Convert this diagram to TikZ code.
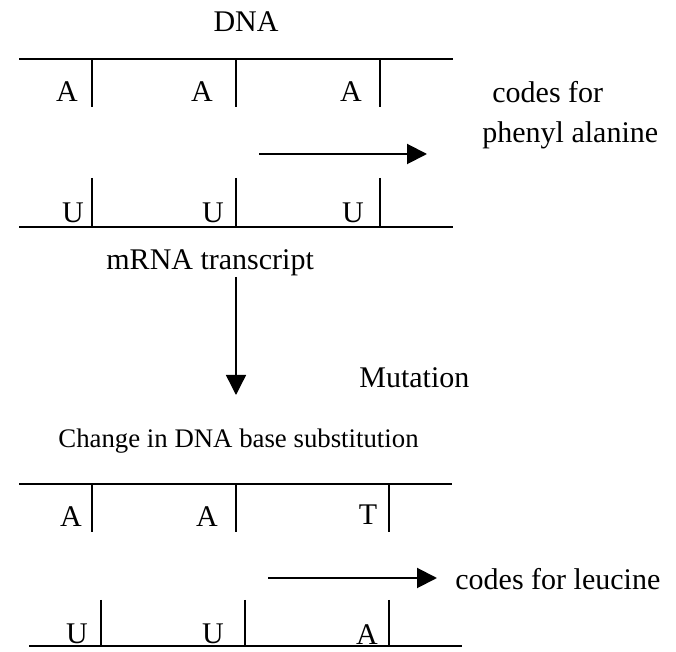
\documentclass[tikz,border=0pt]{standalone}
\usepackage{fontspec}
\setmainfont{Liberation Serif}
\usetikzlibrary{arrows.meta, positioning}
\tikzset{
    label/.style={
        inner sep=0pt, anchor=base west,
        font=\fontsize{15}{18}\selectfont
    },
    smalllabel/.style={
        inner sep=0pt, anchor=base west,
        font=\fontsize{13.4}{16}\selectfont
    },
    nuc/.style={
        inner sep=0pt, anchor=base,
        font=\fontsize{15}{18}\selectfont
    },
    strand/.style={line width=1pt, draw=black},
    bond/.style={line width=0.8pt, draw=black},
    arrow/.style={-{Triangle[length=10pt, width=10pt]}, line width=1pt, draw=black},
    thinarrow/.style={-{Triangle[length=10pt, width=10pt]}, line width=0.7pt, draw=black}
}
\begin{document}
\begin{tikzpicture}[x=0.5pt, y=-0.5pt]
    \useasboundingbox (0,0) rectangle (676,652);

    % original DNA and its transcript
    \node[nuc] (dna) at (246,32) {DNA};
    \draw[strand] (19,59) -- (453,59);
    \draw[bond] (92,59) -- (92,107);
    \draw[bond] (236,59) -- (236,107);
    \draw[bond] (380,59) -- (380,107);
    \node[nuc] (a1) at (67,102) {A};
    \node[nuc] (a2) at (202,102) {A};
    \node[nuc] (a3) at (351,102) {A};

    \node[label] (codes) at (492,103) {codes for};
    \node[label] (phe) at (482,143) {phenyl alanine};
    \coordinate (pheTail) at (259,154);
    \coordinate (pheTip) at (427,154);
    \draw[arrow] (pheTail) -- (pheTip);

    \draw[bond] (92,178) -- (92,227);
    \draw[bond] (236,178) -- (236,227);
    \draw[bond] (380,178) -- (380,227);
    \draw[strand] (19,227) -- (453,227);
    \node[nuc] (u1) at (73,223) {U};
    \node[nuc] (u2) at (213,223) {U};
    \node[nuc] (u3) at (353,223) {U};

    \node[label] (mrna) at (106,270) {mRNA transcript};
    \coordinate (mutTip) at (236,395);
    \draw[thinarrow] (mrna.south -| mutTip) -- (mutTip);
    \node[label] (mut) at (359,388) {Mutation};

    % mutated DNA and its transcript
    \node[smalllabel] (change) at (58,448) {Change in DNA base substitution};
    \draw[strand] (19,484) -- (452,484);
    \draw[bond] (92,484) -- (92,532);
    \draw[bond] (236,484) -- (236,532);
    \draw[bond] (389,484) -- (389,532);
    \node[nuc] (b1) at (71,527) {A};
    \node[nuc] (b2) at (207,527) {A};
    \node[nuc] (b3) at (368,525) {T};

    \coordinate (leuTail) at (268,578);
    \coordinate (leuTip) at (437,578);
    \draw[arrow] (leuTail) -- (leuTip);
    \node[label] (leu) at (455,590) {codes for leucine};

    \draw[bond] (101,600) -- (101,646);
    \draw[bond] (245,600) -- (245,646);
    \draw[bond] (389,600) -- (389,646);
    \draw[strand] (29,646) -- (462,646);
    \node[nuc] (v1) at (77,644) {U};
    \node[nuc] (v2) at (213,644) {U};
    \node[nuc] (v3) at (367,645) {A};
\end{tikzpicture}
\end{document}
